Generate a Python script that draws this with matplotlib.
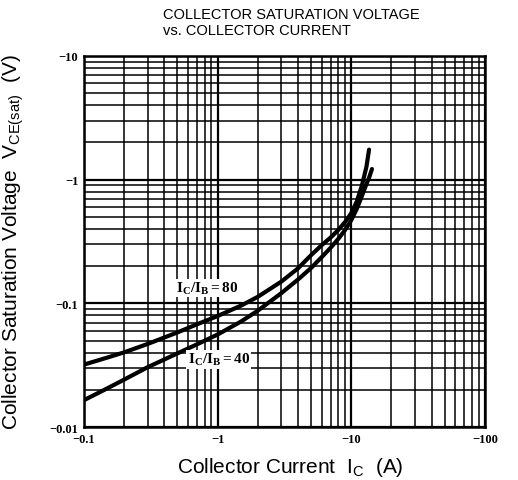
import matplotlib
matplotlib.use("Agg")
import matplotlib.pyplot as plt
from matplotlib.ticker import LogLocator, FixedLocator, FixedFormatter, NullFormatter

plt.rcParams['mathtext.fontset'] = 'custom'
plt.rcParams['mathtext.rm'] = 'Liberation Sans'
plt.rcParams['mathtext.it'] = 'Liberation Sans'
plt.rcParams['mathtext.bf'] = 'Liberation Serif:bold'

# Data (magnitudes, axis labels shown negative)
ic_80 = [0.1, 0.15, 0.2, 0.3, 0.5, 0.7, 1.0, 1.5, 2.0, 3.0, 4.0, 5.0, 6.0, 7.0,
         8.0, 9.0, 10.0, 11.0, 12.0, 13.0, 13.6]
v_80 = [0.032, 0.0365, 0.0402, 0.047, 0.0582, 0.0677, 0.079, 0.096, 0.113, 0.150,
        0.192, 0.245, 0.295, 0.340, 0.392, 0.455, 0.535, 0.665, 0.89, 1.27, 1.75]

ic_40 = [0.1, 0.15, 0.2, 0.3, 0.5, 0.7, 1.0, 1.5, 2.0, 3.0, 4.0, 5.0, 6.0, 7.0,
         8.0, 9.0, 10.0, 11.0, 12.0, 13.0, 13.7, 14.3]
v_40 = [0.0165, 0.0206, 0.0242, 0.0305, 0.0394, 0.0466, 0.056, 0.0714, 0.0873, 0.121,
        0.156, 0.193, 0.236, 0.281, 0.332, 0.392, 0.470, 0.580, 0.735, 0.92, 1.06, 1.22]

x_ticks = [0.1, 1, 10, 100]
x_ticklabels = ['\u22120.1', '\u22121', '\u221210', '\u2212100']
y_ticks = [0.01, 0.1, 1, 10]
y_ticklabels = ['\u22120.01', '\u22120.1', '\u22121', '\u221210']

fig = plt.figure(figsize=(5.18, 4.81), dpi=100)
ax = fig.add_axes([0.162, 0.110, 0.774, 0.7715])
ax.set_xscale('log')
ax.set_yscale('log')
ax.set_xlim(0.1, 100)
ax.set_ylim(0.01, 10)

ax.xaxis.set_major_locator(FixedLocator(x_ticks))
ax.xaxis.set_major_formatter(FixedFormatter(x_ticklabels))
ax.yaxis.set_major_locator(FixedLocator(y_ticks))
ax.yaxis.set_major_formatter(FixedFormatter(y_ticklabels))
ax.xaxis.set_minor_locator(LogLocator(base=10, subs=range(2, 10), numticks=20))
ax.yaxis.set_minor_locator(LogLocator(base=10, subs=range(2, 10), numticks=20))
ax.xaxis.set_minor_formatter(NullFormatter())
ax.yaxis.set_minor_formatter(NullFormatter())

ax.grid(True, which='major', color='black', linewidth=1.6)
ax.grid(True, which='minor', color='black', linewidth=1.1)
ax.tick_params(which='both', length=0, pad=4)
for lab in ax.get_xticklabels() + ax.get_yticklabels():
    lab.set_fontfamily('Liberation Serif')
    lab.set_fontweight('bold')
    lab.set_fontsize(9)
for s in ax.spines.values():
    s.set_linewidth(1.8)

ax.plot(ic_80, v_80, color='black', linewidth=3.0, solid_capstyle='round',
        solid_joinstyle='round', zorder=3)
ax.plot(ic_40, v_40, color='black', linewidth=3.0, solid_capstyle='round',
        solid_joinstyle='round', zorder=3)

ax.text(0.84, 0.133, r'$\mathbf{I_C/I_B=80}$', fontsize=11, ha='center', va='center',
        zorder=4, bbox=dict(facecolor='white', edgecolor='none', pad=1))
ax.text(1.02, 0.0354, r'$\mathbf{I_C/I_B=40}$', fontsize=11, ha='center', va='center',
        zorder=4, bbox=dict(facecolor='white', edgecolor='none', pad=1))

ax.set_xlabel(r'Collector Current  I$_{\mathrm{C}}$  (A)', fontsize=15,
              fontfamily='Liberation Sans')
ax.xaxis.set_label_coords(0.514, -0.076)
ax.set_ylabel(r'Collector Saturation Voltage  V$_{\mathrm{CE(sat)}}$  (V)', fontsize=15,
              fontfamily='Liberation Sans')
ax.yaxis.set_label_coords(-0.145, 0.5)

fig.text(0.315, 0.969, 'COLLECTOR SATURATION VOLTAGE', fontsize=10.5,
         fontfamily='Liberation Sans', ha='left', va='center')
fig.text(0.315, 0.936, 'vs. COLLECTOR CURRENT', fontsize=10.5,
         fontfamily='Liberation Sans', ha='left', va='center')

fig.savefig('out.png', dpi=100)
